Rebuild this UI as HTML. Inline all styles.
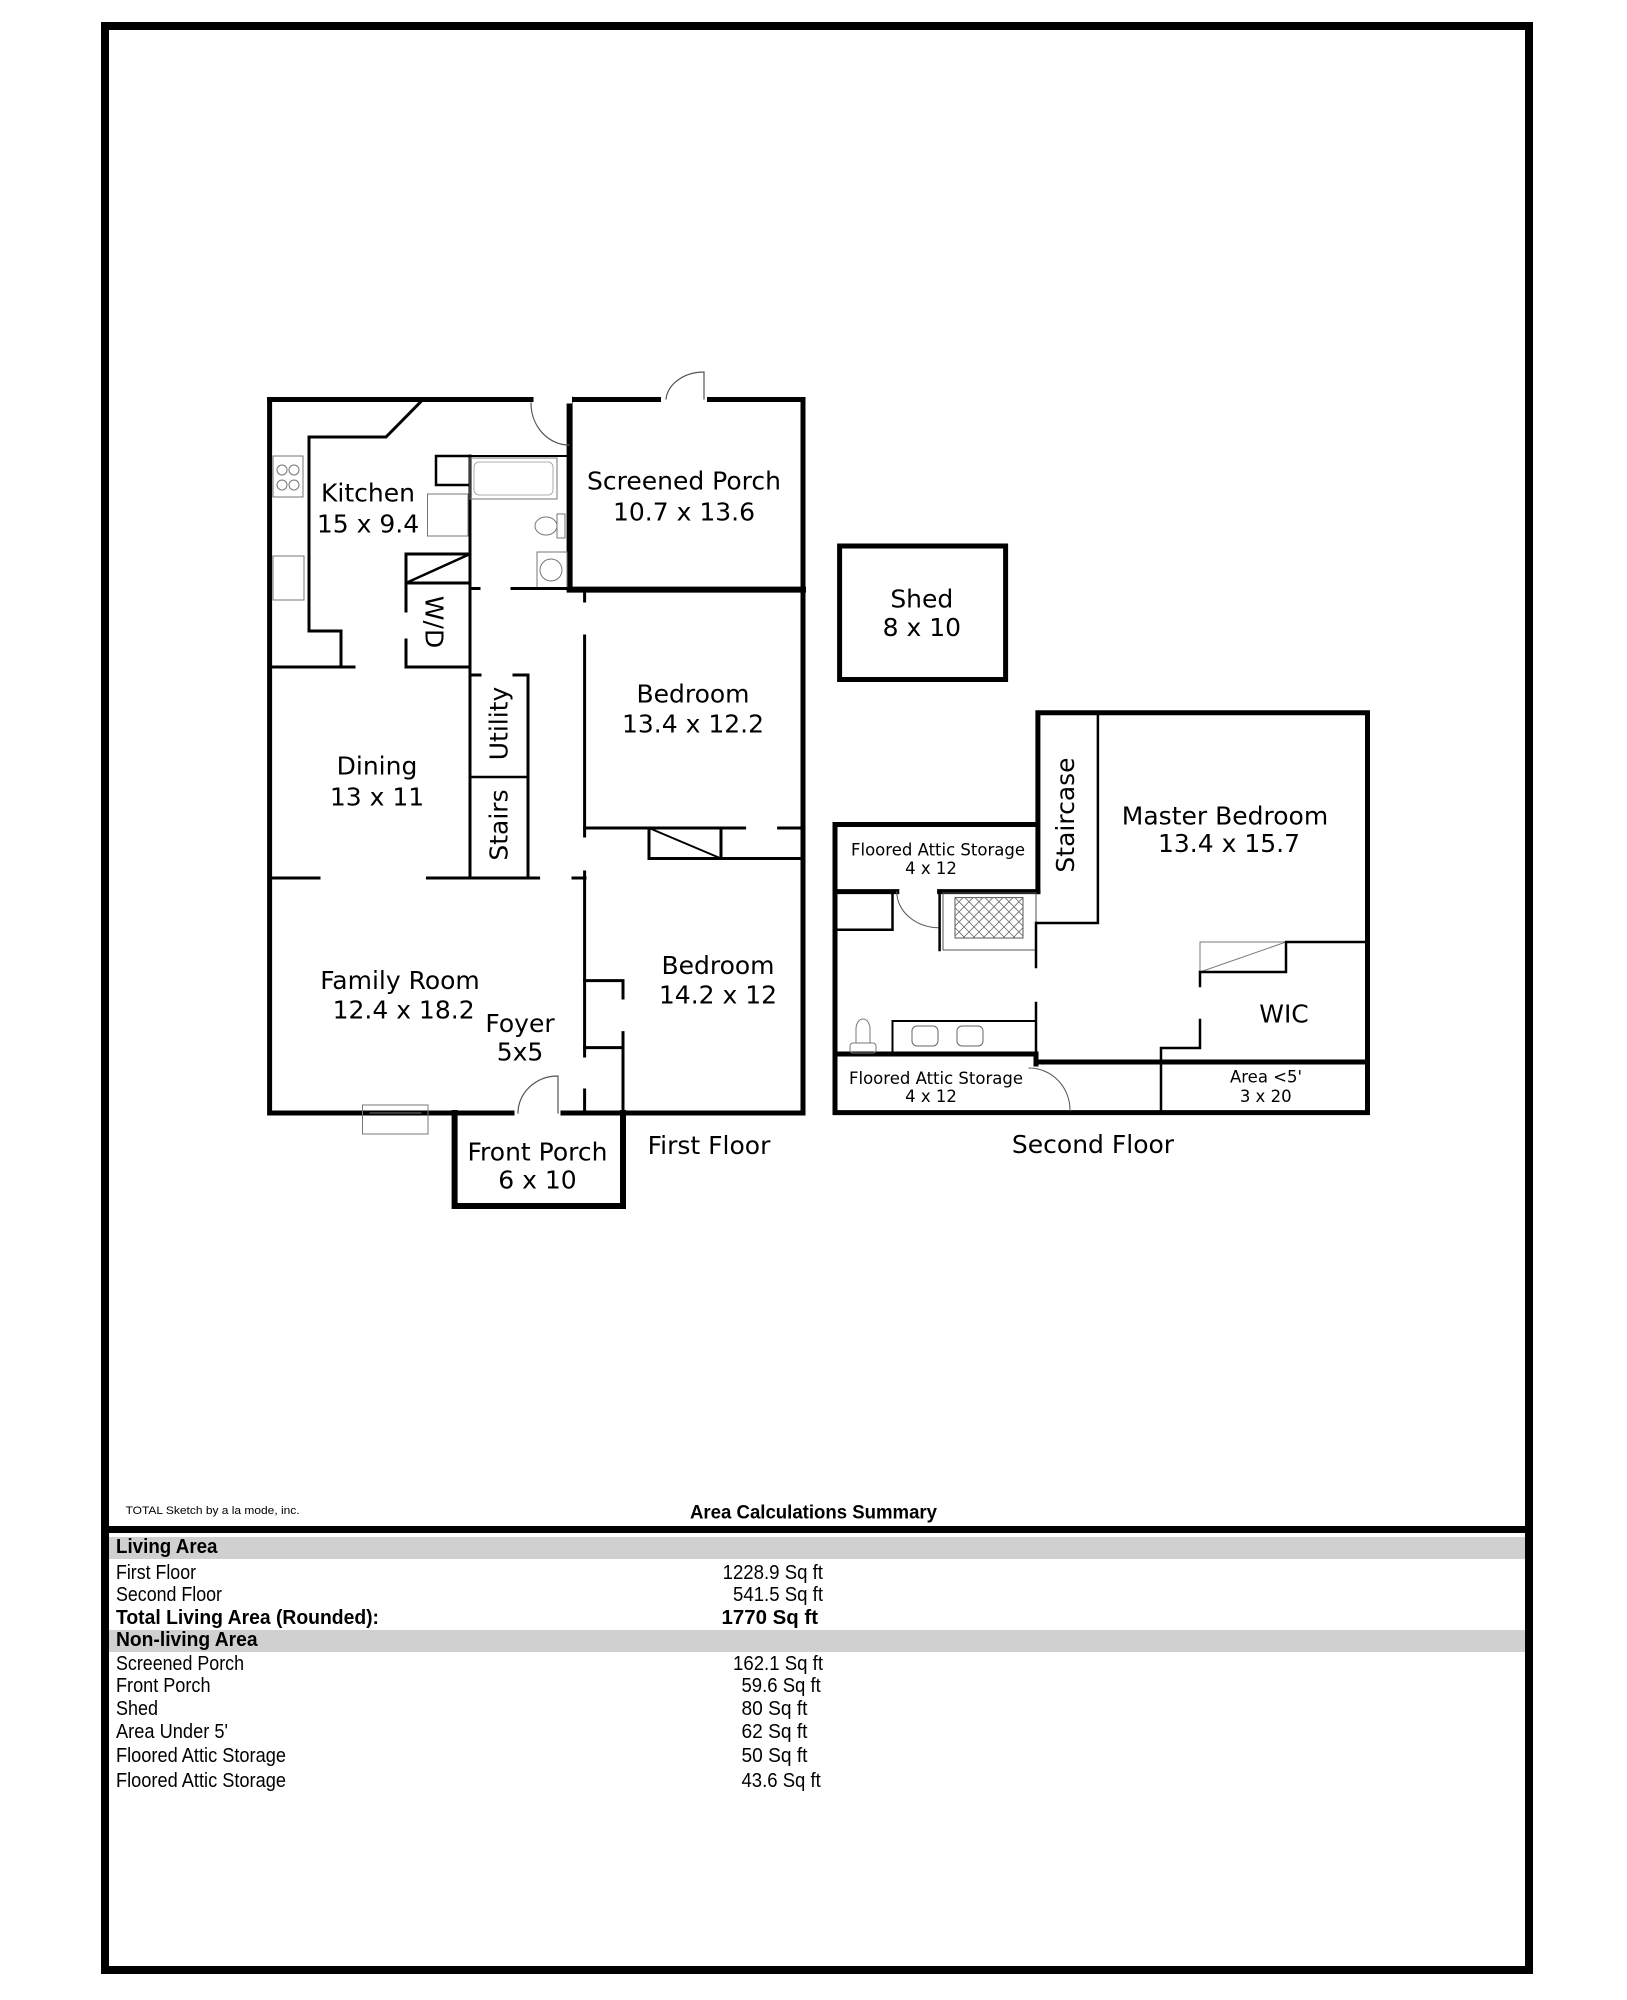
<!DOCTYPE html>
<html><head><meta charset="utf-8"><style>
html,body{margin:0;padding:0;background:#fff;}
svg{display:block;}
</style></head><body>
<svg width="1627" height="2000" viewBox="0 0 1627 2000" xmlns="http://www.w3.org/2000/svg">
<rect x="0" y="0" width="1627" height="2000" fill="#fff"/>
<!-- page border -->
<rect x="105" y="26" width="1424" height="1944" fill="none" stroke="#000" stroke-width="8"/>
<line x1="105" y1="1529.5" x2="1529" y2="1529.5" stroke="#000" stroke-width="7"/>

<g fill="none" stroke="#000" stroke-linecap="square">
<!-- FIRST FLOOR outer -->
<rect x="269.6" y="399.5" width="533.4" height="713.5" stroke-width="5"/>
<!-- screened porch -->
<polyline points="569.6,399.5 569.6,589.6 803,589.6" stroke-width="6"/>
<!-- door gaps on top wall -->
<line x1="665" y1="399.5" x2="703" y2="399.5" stroke="#fff" stroke-width="8"/>
<line x1="531" y1="399.5" x2="568" y2="399.5" stroke="#fff" stroke-width="8"/>
<line x1="269.6" y1="399.5" x2="531" y2="399.5" stroke-width="5"/>
<path d="M704,372 L704,399 M704,372 A38,30 0 0 0 666,399" stroke-width="1.2" stroke="#555"/>
<path d="M531,403 A38,42 0 0 0 569,445" stroke-width="1.2" stroke="#555"/>
<!-- kitchen walls -->
<polyline points="423,399.5 386,437 309,437 309,631 341,631 341,667" stroke-width="3"/>
<line x1="269.6" y1="667" x2="354" y2="667" stroke-width="3"/>
<line x1="406" y1="667" x2="470" y2="667" stroke-width="3"/>
<!-- W/D -->
<line x1="406" y1="554" x2="470" y2="554" stroke-width="3"/>
<line x1="406" y1="583" x2="470" y2="583" stroke-width="3"/>
<line x1="406" y1="583" x2="470" y2="554" stroke-width="2.5"/>
<line x1="406" y1="554" x2="406" y2="611" stroke-width="3"/>
<line x1="406" y1="640" x2="406" y2="667" stroke-width="3"/>
<!-- hall wall -->
<line x1="470" y1="456" x2="470" y2="878" stroke-width="3"/>
<line x1="470" y1="456" x2="568" y2="456" stroke-width="2"/>
<rect x="436" y="456" width="34" height="29" stroke-width="2.5"/>
<rect x="470" y="458" width="87" height="41" stroke-width="1" stroke="#777"/>
<rect x="474" y="462" width="79" height="33" rx="5" stroke-width="0.8" stroke="#999"/>
<rect x="427.5" y="494" width="40.5" height="42" stroke-width="1" stroke="#777"/>
<ellipse cx="546" cy="526" rx="11" ry="9" stroke-width="1" stroke="#777"/>
<rect x="557" y="514" width="8" height="24" stroke-width="1" stroke="#777"/>
<rect x="537" y="552" width="30" height="36" stroke-width="1" stroke="#777"/>
<circle cx="551" cy="570" r="11" stroke-width="1" stroke="#777"/>
<line x1="470" y1="588.5" x2="479" y2="588.5" stroke-width="3"/>
<line x1="512" y1="588.5" x2="568" y2="588.5" stroke-width="3"/>
<!-- stove & sink -->
<rect x="273" y="456" width="30" height="41" stroke-width="1" stroke="#777"/>
<circle cx="282" cy="470" r="5" stroke-width="1" stroke="#777"/><circle cx="294" cy="470" r="5" stroke-width="1" stroke="#777"/>
<circle cx="282" cy="485" r="5" stroke-width="1" stroke="#777"/><circle cx="294" cy="485" r="5" stroke-width="1" stroke="#777"/>
<rect x="273" y="556" width="31" height="44" stroke-width="1" stroke="#777"/>
<!-- utility / stairs -->
<polyline points="470,675 480,675" stroke-width="3"/>
<polyline points="514,675 528,675 528,878" stroke-width="3"/>
<line x1="470" y1="777" x2="528" y2="777" stroke-width="2.5"/>
<!-- dining / family wall -->
<line x1="269.6" y1="878" x2="319" y2="878" stroke-width="3"/>
<line x1="427.5" y1="878" x2="538.6" y2="878" stroke-width="3"/>
<line x1="573" y1="878" x2="585" y2="878" stroke-width="3"/>
<!-- bedroom left wall -->
<line x1="584.6" y1="592" x2="584.6" y2="601" stroke-width="3"/>
<line x1="584.6" y1="636" x2="584.6" y2="836" stroke-width="3"/>
<line x1="584.6" y1="872" x2="584.6" y2="1056" stroke-width="3"/>
<line x1="584.6" y1="1090" x2="584.6" y2="1113" stroke-width="3"/>
<!-- bedroom closet lower -->
<polyline points="584.6,980.6 623,980.6 623,998" stroke-width="3"/>
<polyline points="584.6,1047.6 623,1047.6" stroke-width="3"/>
<line x1="623" y1="1032.6" x2="623" y2="1113" stroke-width="3"/>
<!-- bedroom divider -->
<line x1="584.6" y1="828" x2="744.6" y2="828" stroke-width="3"/>
<line x1="778.6" y1="828" x2="803" y2="828" stroke-width="3"/>
<polyline points="649,828 649,858.5 803,858.5" stroke-width="3"/>
<line x1="721" y1="828" x2="721" y2="858.5" stroke-width="3"/>
<line x1="649" y1="828" x2="721" y2="858.5" stroke-width="2"/>
<!-- front porch -->
<polyline points="454.6,1113 454.6,1206 623,1206 623,1113" stroke-width="6"/>
<line x1="518" y1="1113" x2="557" y2="1113" stroke="#fff" stroke-width="7"/>
<path d="M558,1113 L558,1076 A40,37 0 0 0 518,1113" stroke-width="1.2" stroke="#555"/>
<rect x="362.5" y="1105" width="65.5" height="29" stroke-width="1" stroke="#777"/>
<line x1="370" y1="1113" x2="421" y2="1113" stroke-width="1" stroke="#777"/>

<!-- SHED -->
<rect x="839.6" y="546" width="166" height="133.5" stroke-width="5"/>

<!-- SECOND FLOOR -->
<polyline points="1037.9,891.6 1037.9,712.8 1367.5,712.8 1367.5,1112.6 835,1112.6 835,824.5 1037.9,824.5" stroke-width="5"/>
<line x1="835" y1="891.6" x2="896.8" y2="891.6" stroke-width="5"/>
<line x1="939.6" y1="891.6" x2="1037.9" y2="891.6" stroke-width="5"/>
<polyline points="1097.9,712.8 1097.9,923 1037.9,923" stroke-width="2.5"/>
<polyline points="835,929.8 892.5,929.8 892.5,891.6" stroke-width="2.5"/>
<path d="M896.8,891.6 A43,36 0 0 0 939.6,927.8" stroke-width="1" stroke="#555"/>
<line x1="939.6" y1="891.6" x2="939.6" y2="950" stroke-width="2.5"/>
<rect x="943" y="893" width="93" height="57" stroke-width="1" stroke="#555"/>
<rect x="955" y="897.6" width="68" height="40.4" stroke-width="1" stroke="#555"/>
<g stroke="#666" stroke-width="0.8">
<path d="M955,897.6 L995,938 M965,897.6 L1005,938 M975,897.6 L1015,938 M985,897.6 L1023,936 M995,897.6 L1023,926 M1005,897.6 L1023,916 M1015,897.6 L1023,906 M955,907.6 L985,938 M955,917.6 L975,938 M955,927.6 L965,938"/>
<path d="M1023,897.6 L983,938 M1013,897.6 L973,938 M1003,897.6 L963,938 M993,897.6 L955,936 M983,897.6 L955,926 M973,897.6 L955,916 M963,897.6 L955,906 M1023,907.6 L993,938 M1023,917.6 L1003,938 M1023,927.6 L1013,938"/>
</g>
<line x1="1036" y1="923" x2="1036" y2="967" stroke-width="2.5"/>
<line x1="1036" y1="1003" x2="1036" y2="1064" stroke-width="2.5"/>
<!-- WIC -->
<polyline points="1200,972 1200,942 1286,942" stroke-width="1" stroke="#777"/>
<line x1="1200" y1="972" x2="1286" y2="942" stroke-width="1" stroke="#777"/>
<polyline points="1200,986 1200,972 1286,972 1286,942 1365.7,942" stroke-width="2.5"/>
<polyline points="1200,1020 1200,1048 1161,1048 1161,1112.6" stroke-width="2.5"/>
<line x1="1036" y1="1062" x2="1367.5" y2="1062" stroke-width="5"/>
<line x1="835" y1="1054" x2="1036" y2="1054" stroke-width="5"/>
<line x1="1036" y1="1054" x2="1036" y2="1064" stroke-width="5"/>
<rect x="892.5" y="1021" width="143.5" height="33" stroke-width="2"/>
<rect x="912" y="1026" width="26" height="20" rx="5" stroke-width="1" stroke="#666"/>
<rect x="957" y="1026" width="26" height="20" rx="5" stroke-width="1" stroke="#666"/>
<path d="M856,1042 L856,1029 A7,10 0 0 1 870,1029 L870,1042" stroke-width="1" stroke="#777"/>
<rect x="850" y="1043" width="26" height="10" rx="3" stroke-width="1" stroke="#777"/>
<path d="M1029,1068 A41,42 0 0 1 1070,1110.5" stroke-width="1" stroke="#555"/>
</g>

<!-- floor plan labels -->
<g font-family="'DejaVu Sans','Liberation Sans',sans-serif" font-size="25" text-anchor="middle" dominant-baseline="central" fill="#000">
<text x="684" y="481">Screened Porch</text><text x="684" y="512">10.7 x 13.6</text>
<text x="368" y="493">Kitchen</text><text x="368" y="524">15 x 9.4</text>
<text x="434" y="622" transform="rotate(90 434 622)">W/D</text>
<text x="693" y="694">Bedroom</text><text x="693" y="724">13.4 x 12.2</text>
<text x="499" y="723.5" transform="rotate(-90 499 723.5)">Utility</text>
<text x="499" y="825" transform="rotate(-90 499 825)">Stairs</text>
<text x="377" y="766">Dining</text><text x="377" y="797">13 x 11</text>
<text x="400" y="980.6">Family Room</text><text x="403.6" y="1010">12.4 x 18.2</text>
<text x="520" y="1023.5">Foyer</text><text x="520" y="1052">5x5</text>
<text x="718" y="965.6">Bedroom</text><text x="718" y="995">14.2 x 12</text>
<text x="537.5" y="1152">Front Porch</text><text x="537.5" y="1180">6 x 10</text>
<text x="709" y="1145.6">First Floor</text>
<text x="921.8" y="599">Shed</text><text x="921.8" y="627.6">8 x 10</text>
<text x="1225" y="816">Master Bedroom</text><text x="1229" y="843.4">13.4 x 15.7</text>
<text x="1065.7" y="815" transform="rotate(-90 1065.7 815)">Staircase</text>
<text x="1284" y="1014">WIC</text>
<text x="1093" y="1144.7">Second Floor</text>
</g>
<g font-family="'DejaVu Sans','Liberation Sans',sans-serif" font-size="16.5" text-anchor="middle" dominant-baseline="central" fill="#000">
<text x="938" y="850">Floored Attic Storage</text><text x="931" y="868.7">4 x 12</text>
<text x="936" y="1078.4">Floored Attic Storage</text><text x="931" y="1096.5">4 x 12</text>
<text x="1266" y="1077">Area &lt;5'</text><text x="1265.7" y="1096.5">3 x 20</text>
</g>

<!-- summary -->
<g font-family="'Liberation Sans',sans-serif" fill="#000" dominant-baseline="central" lengthAdjust="spacingAndGlyphs">
<text x="125.6" y="1511" font-size="11" textLength="174" lengthAdjust="spacingAndGlyphs">TOTAL Sketch by a la mode, inc.</text>
<text x="690" y="1513" font-size="19" font-weight="bold" textLength="247" lengthAdjust="spacingAndGlyphs">Area Calculations Summary</text>
</g>
<rect x="109" y="1537" width="1416" height="22" fill="#d0d0d0"/>
<rect x="109" y="1630" width="1416" height="22" fill="#d0d0d0"/>
<g font-family="'Liberation Sans',sans-serif" font-size="20" fill="#000" dominant-baseline="central">
<text x="116" y="1547" font-weight="bold" textLength="101.5" lengthAdjust="spacingAndGlyphs">Living Area</text>
<text x="116" y="1573" textLength="80" lengthAdjust="spacingAndGlyphs">First Floor</text>
<text x="116" y="1595" textLength="106" lengthAdjust="spacingAndGlyphs">Second Floor</text>
<text x="116" y="1618" font-weight="bold" textLength="263" lengthAdjust="spacingAndGlyphs">Total Living Area (Rounded):</text>
<text x="116" y="1640" font-weight="bold" textLength="141.6" lengthAdjust="spacingAndGlyphs">Non-living Area</text>
<text x="116" y="1664" textLength="128" lengthAdjust="spacingAndGlyphs">Screened Porch</text>
<text x="116" y="1686" textLength="94.5" lengthAdjust="spacingAndGlyphs">Front Porch</text>
<text x="116" y="1709" textLength="42" lengthAdjust="spacingAndGlyphs">Shed</text>
<text x="116" y="1732" textLength="112" lengthAdjust="spacingAndGlyphs">Area Under 5'</text>
<text x="116" y="1756" textLength="170" lengthAdjust="spacingAndGlyphs">Floored Attic Storage</text>
<text x="116" y="1781" textLength="170" lengthAdjust="spacingAndGlyphs">Floored Attic Storage</text>
<text x="722.6" y="1573" textLength="100.4" lengthAdjust="spacingAndGlyphs">1228.9 Sq ft</text>
<text x="733" y="1595" textLength="90" lengthAdjust="spacingAndGlyphs">541.5 Sq ft</text>
<text x="721.5" y="1618" font-weight="bold" textLength="96.5" lengthAdjust="spacingAndGlyphs">1770 Sq ft</text>
<text x="733" y="1664" textLength="90" lengthAdjust="spacingAndGlyphs">162.1 Sq ft</text>
<text x="741.5" y="1686" textLength="79.3" lengthAdjust="spacingAndGlyphs">59.6 Sq ft</text>
<text x="741.5" y="1709" textLength="66" lengthAdjust="spacingAndGlyphs">80 Sq ft</text>
<text x="741.5" y="1732" textLength="66" lengthAdjust="spacingAndGlyphs">62 Sq ft</text>
<text x="741.5" y="1756" textLength="66" lengthAdjust="spacingAndGlyphs">50 Sq ft</text>
<text x="741.5" y="1781" textLength="79.3" lengthAdjust="spacingAndGlyphs">43.6 Sq ft</text>
</g>
</svg>
</body></html>
